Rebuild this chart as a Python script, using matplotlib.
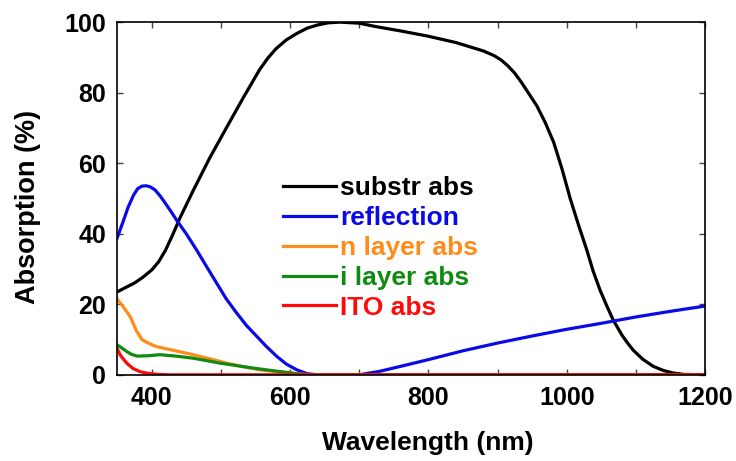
import matplotlib

matplotlib.use("Agg")
import matplotlib.pyplot as plt
from matplotlib.ticker import MultipleLocator

plt.rcParams["font.family"] = ["Liberation Sans", "DejaVu Sans"]
plt.rcParams["font.weight"] = "bold"

# substrate absorption
substr_wl = [350, 362, 375, 387, 400, 410, 420, 430, 441, 460, 484, 508, 532, 556,
             568, 580, 595, 610, 625, 640, 655, 672, 700, 725, 760, 800, 840, 880,
             895, 905, 915, 925, 935, 945, 957, 969, 981, 993, 1005, 1017, 1029,
             1038, 1048, 1058, 1067, 1080, 1088, 1096, 1110, 1125, 1140, 1154,
             1170, 1200]
substr_abs = [23.5, 24.7, 26, 27.6, 29.7, 32, 35.3, 39.5, 44.5, 52.2, 61.5, 70, 78.4,
              86.5, 89.8, 92.5, 95, 96.8, 98.3, 99.2, 99.8, 100, 99.7, 98.7, 97.5, 96,
              94.2, 91.8, 90.5, 89.3, 87.6, 85.5, 82.8, 79.8, 76.2, 71.5, 66, 58.5,
              50, 42.5, 35.4, 29.5, 24.1, 19.5, 15.6, 11.2, 9, 7, 4.4, 2.4, 1.2, 0.5,
              0.1, 0]

# front surface reflection
refl_wl = [350, 358, 366, 374, 380, 386, 392, 398, 405, 412, 420, 428, 436, 450, 465,
           480, 494, 508, 523, 537, 552, 566, 581, 595, 610, 625, 640, 700, 730, 760,
           800, 850, 900, 950, 1000, 1050, 1100, 1150, 1200]
reflection = [38.7, 43, 47.5, 51, 52.8, 53.5, 53.6, 53.3, 52.4, 50.8, 48.6, 46.3,
              43.9, 40, 35.4, 30.5, 26, 21.5, 17.5, 14, 10.9, 8, 5.2, 3, 1.4, 0.3, 0,
              0, 1, 2.4, 4.3, 6.8, 9, 11, 12.9, 14.6, 16.4, 18, 19.5]

# n layer absorption
n_wl = [350, 360, 369, 378, 386, 395, 407, 430, 460, 485, 509, 532, 557, 575, 595,
        615, 630, 1200]
n_abs = [21.5, 19, 16.5, 12.5, 10, 9, 8, 7, 5.7, 4.5, 3.3, 2.3, 1.4, 1, 0.6, 0.2, 0, 0]

# i layer absorption
i_wl = [350, 357, 364, 371, 379, 395, 412, 435, 460, 480, 499, 523, 547, 570, 590,
        610, 625, 1200]
i_abs = [8.5, 7.6, 6.6, 5.8, 5.3, 5.4, 5.7, 5.3, 4.7, 4, 3.3, 2.6, 1.9, 1.3, 0.8,
         0.3, 0, 0]

# ITO absorption
ito_wl = [350, 355, 364, 373, 383, 395, 410, 425, 1200]
ito_abs = [7.5, 5.5, 3.3, 1.8, 0.9, 0.4, 0.1, 0, 0]

series = [
    (substr_wl, substr_abs, "black", "substr abs"),
    (refl_wl, reflection, "#0a0ae6", "reflection"),
    (n_wl, n_abs, "#ff8c1a", "n layer abs"),
    (i_wl, i_abs, "#108a10", "i layer abs"),
    (ito_wl, ito_abs, "#ff0a0a", "ITO abs"),
]

fig = plt.figure(figsize=(7.36, 4.61), dpi=100)
ax = fig.add_axes([0.159, 0.187, 0.799, 0.765])

for wl, vals, color, label in series:
    ax.plot(wl, vals, color=color, lw=2.3, label=label)

ax.set_xlim(350, 1200)
ax.set_ylim(0, 100)
ax.xaxis.set_major_locator(MultipleLocator(200))
ax.xaxis.set_minor_locator(MultipleLocator(100))
ax.yaxis.set_major_locator(MultipleLocator(20))
ax.tick_params(which="both", direction="in", top=True, right=True,
               labelsize=18, width=1, color="#444444")
ax.tick_params(which="major", length=4, pad=8)
ax.tick_params(which="minor", length=4)
for spine in ax.spines.values():
    spine.set_linewidth(1.2)

ax.set_xlabel("Wavelength (nm)", fontsize=19, fontweight="bold")
ax.set_ylabel("Absorption (%)", fontsize=19.5, fontweight="bold")
ax.xaxis.set_label_coords(0.529, -0.158)
ax.yaxis.set_label_coords(-0.13, 0.475)

ax.legend(loc="upper left", bbox_to_anchor=(0.26, 0.60), frameon=False,
          handlelength=2.0, handletextpad=0.15, labelspacing=0.22,
          labelcolor="linecolor", borderpad=0, prop={"weight": "bold", "size": 19})

fig.savefig("out.png", dpi=100)
